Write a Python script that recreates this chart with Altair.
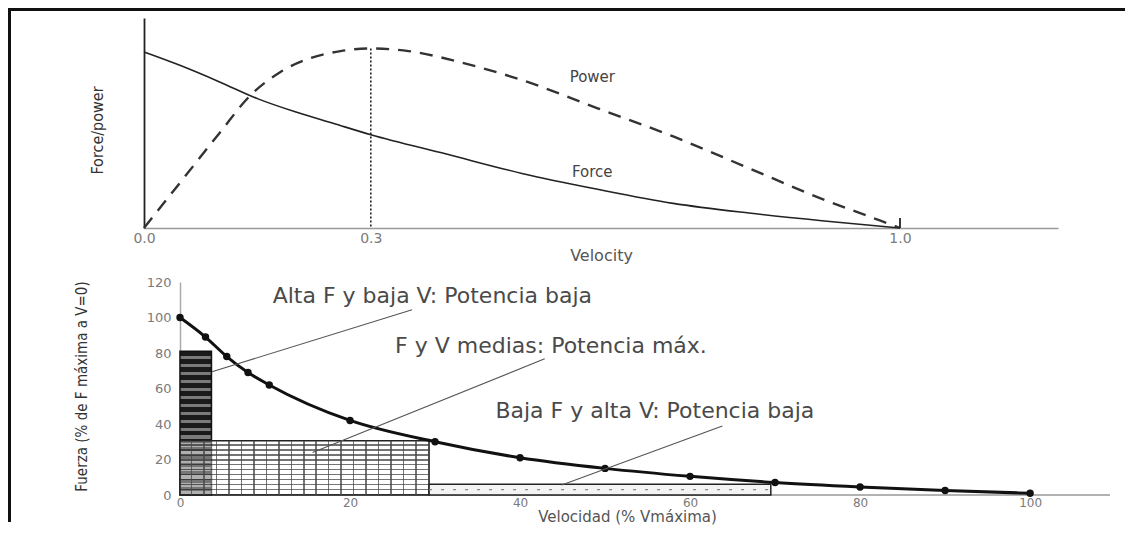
import altair as alt
import pandas as pd

# ---------------- top panel data (normalised force / power vs velocity) ----------------
force_v = [0.0, 0.05, 0.10, 0.15, 0.20, 0.25, 0.30, 0.40, 0.50, 0.60, 0.70, 0.80, 0.90, 1.0]
force_f = [1.0, 0.92, 0.83, 0.735, 0.66, 0.595, 0.53, 0.42, 0.31, 0.22, 0.14, 0.085, 0.04, 0.0]

power_v = [0.0, 0.05, 0.10, 0.14, 0.18, 0.22, 0.26, 0.30, 0.35, 0.42, 0.50, 0.60, 0.70,
           0.80, 0.90, 0.95, 1.0]
power_p = [0.0, 0.27, 0.54, 0.75, 0.885, 0.965, 1.005, 1.02, 1.005, 0.94, 0.84, 0.68, 0.52,
           0.34, 0.16, 0.08, 0.0]

peak_v = [0.3]
peak_p = [1.02]
top_ticks = [0.0, 0.3, 1.0]
end_tick_v = [1.0]
end_tick_h = [0.057]
curve_names = ["Power", "Force"]
curve_lab_v = [0.593, 0.593]
curve_lab_y = [0.858, 0.318]

# ---------------- bottom panel data ----------------
vel = [0, 3, 5.5, 8, 10.5, 20, 30, 40, 50, 60, 70, 80, 90, 100]
fuerza = [100, 89, 78, 69, 62, 42, 30, 21, 15, 10.5, 7, 4.5, 2.5, 1]

zone_name = ["alta", "media", "baja"]
zone_x0 = [0, 0, 29.3]
zone_x1 = [3.7, 29.3, 69.5]
zone_y = [81, 30.5, 6]

notes = ["Alta F y baja V: Potencia baja",
         "F y V medias: Potencia máx.",
         "Baja F y alta V: Potencia baja"]
note_x = [10.9, 25.3, 37.1]
note_y = [112.2, 83.9, 47.2]
lead_x = [27.3, 42.9, 63.8]
lead_y = [104.4, 76.7, 38.9]
lead_x2 = [3.76, 15.6, 44.9]
lead_y2 = [69.4, 23.9, 5.6]

bottom_xticks = [0, 20, 40, 60, 80, 100]
bottom_yticks = [0, 20, 40, 60, 80, 100, 120]
x_axis_span = [0, 109.4]

COND = "Liberation Sans Narrow, DejaVu Sans Condensed, sans-serif"
SANS = "DejaVu Sans"


def stripes(n, frac, bg, fg, along_y=True):
    stops = []
    for i in range(n):
        a = i / n
        b = (i + 1 - frac) / n
        c = (i + 1) / n
        stops += [{"offset": a, "color": bg}, {"offset": b, "color": bg},
                  {"offset": b, "color": fg}, {"offset": c, "color": fg}]
    g = {"gradient": "linear", "stops": stops, "x1": 0, "y1": 0}
    if along_y:
        g.update({"x2": 0, "y2": 1})
    else:
        g.update({"x2": 1, "y2": 0})
    return g


one = pd.DataFrame({"k": [0]})


def frame_bar(x0, x1, y0, y1):
    # page frame drawn as a thin filled bar (no stroke, so its bounds are exact)
    return alt.Chart(one).mark_rect(color="#111", strokeWidth=0).encode(
        x=alt.value(x0), x2=alt.value(x1), y=alt.value(y0), y2=alt.value(y1))


# ======================= TOP PANEL =======================
W1, H1 = 914, 210
xs1 = alt.Scale(domain=[0, 1.209], nice=False, zero=False)
ys1 = alt.Scale(domain=[0, 1.193], nice=False, zero=False)
xax1 = alt.Axis(values=top_ticks, format=".1f", ticks=False, grid=False, labelFlush=False,
                domainColor="#999", domainWidth=1.5, labelFont=SANS, labelFontSize=14,
                labelColor="#7a7a7a", labelPadding=3, title="Velocity", titleFont=SANS,
                titleFontSize=16, titleFontWeight="normal", titleColor="#555",
                titleY=27, titleBaseline="middle")
yax1 = alt.Axis(labels=False, ticks=False, grid=False, domainColor="#222", domainWidth=1.8,
                title="Force/power", titleFont=COND, titleFontSize=16, titleFontWeight="normal",
                titleColor="#333", titleX=-47, titleY=112, titleBaseline="middle",
                titleAlign="center")

X1 = alt.X("v:Q", scale=xs1, axis=xax1)
Y1 = alt.Y("y:Q", scale=ys1, axis=yax1)

df_force = pd.DataFrame({"v": force_v, "y": force_f})
df_power = pd.DataFrame({"v": power_v, "y": power_p})
df_peak = pd.DataFrame({"v": peak_v, "y": peak_p, "y0": [0.0]})
df_endtick = pd.DataFrame({"v": end_tick_v, "y": end_tick_h, "y0": [0.0]})
df_clab = pd.DataFrame({"v": curve_lab_v, "y": curve_lab_y, "t": curve_names})

force_line = alt.Chart(df_force).mark_line(color="#222", strokeWidth=1.6, interpolate="monotone").encode(x=X1, y=Y1)
power_line = alt.Chart(df_power).mark_line(color="#333", strokeWidth=2.4, strokeDash=[13, 9],
                                           interpolate="monotone").encode(x=X1, y=Y1)
peak_rule = alt.Chart(df_peak).mark_rule(color="#222", strokeWidth=1.6, strokeDash=[2, 2]).encode(
    x=X1, y=Y1, y2="y0:Q")
end_tick = alt.Chart(df_endtick).mark_rule(color="#222", strokeWidth=1.8).encode(x=X1, y=Y1, y2="y0:Q")
clabels = alt.Chart(df_clab).mark_text(font=SANS, fontSize=15, color="#444", align="center",
                                       baseline="middle").encode(x=X1, y=Y1, text="t:N")
frame_top = frame_bar(-136, 981, -10, -7)
frame_left1 = frame_bar(-136, -133, -10, 254)

top = alt.layer(force_line, power_line, peak_rule, end_tick, clabels, frame_top, frame_left1).properties(
    width=W1, height=H1)

# ======================= BOTTOM PANEL =======================
# plot area starts at the same left edge as the top panel; zero sits 36 px further right
W2, H2 = 966, 213
xs2 = alt.Scale(domain=[-4.235, 109.4], nice=False, zero=False)
ys2 = alt.Scale(domain=[0, 120], nice=False, zero=False)
xax2 = alt.Axis(values=bottom_xticks, ticks=False, grid=False, labelFlush=False, domain=False,
                labelFont=SANS, labelFontSize=12, labelColor="#7a7a7a", labelPadding=2,
                title="Velocidad (% Vmáxima)", titleFont=SANS, titleFontSize=15,
                titleFontWeight="normal", titleColor="#555", titleY=21.5, titleBaseline="middle")
yax2 = alt.Axis(values=bottom_yticks, ticks=False, grid=False, domainColor="#aaa", domainWidth=1.5,
                offset=-36, labelFont=SANS, labelFontSize=13, labelColor="#7a7a7a", labelPadding=9,
                title="Fuerza (% de F máxima a V=0)", titleFont=COND, titleFontSize=15,
                titleFontWeight="normal", titleColor="#333", titleX=-99, titleY=104,
                titleBaseline="middle", titleAlign="center")

X2 = alt.X("x:Q", scale=xs2, axis=xax2)
Y2 = alt.Y("y:Q", scale=ys2, axis=yax2)

df_zone = pd.DataFrame({"zone": zone_name, "x": zone_x0, "x1": zone_x1, "y": zone_y, "y0": [0, 0, 0]})
df_zone["ymid"] = df_zone["y"] / 2
df_curve = pd.DataFrame({"x": vel, "y": fuerza})
df_notes = pd.DataFrame({"x": note_x, "y": note_y, "t": notes})
df_lead = pd.DataFrame({"x": lead_x, "y": lead_y, "x1": lead_x2, "y1": lead_y2})
df_axis = pd.DataFrame({"x": [x_axis_span[0]], "x1": [x_axis_span[1]], "y": [0]})


def zone(name):
    return alt.Chart(df_zone).transform_filter(alt.datum.zone == name)


dark_fill = stripes(18, 0.45, "#1a1a1a", "#7a7a7a", True)
grid_h = stripes(11, 0.3, "rgba(255,255,255,0.4)", "rgba(70,70,70,0.75)", True)
grid_v = stripes(20, 0.12, "rgba(255,255,255,0)", "rgba(70,70,70,0.75)", False)

x_axis_line = alt.Chart(df_axis).mark_rule(color="#999", strokeWidth=1.5).encode(x=X2, x2="x1:Q", y=Y2)
dark_rect = zone("alta").mark_rect(fill=dark_fill, stroke="#111", strokeWidth=1.5).encode(
    x=X2, x2="x1:Q", y=Y2, y2="y0:Q")
grid_rect = zone("media").mark_rect(fill=grid_h, stroke="#222", strokeWidth=1.5).encode(
    x=X2, x2="x1:Q", y=Y2, y2="y0:Q")
grid_rect_v = zone("media").mark_rect(fill=grid_v).encode(x=X2, x2="x1:Q", y=Y2, y2="y0:Q")
dot_rect = zone("baja").mark_rect(fill="#f3f3f3", stroke="#222", strokeWidth=1.5).encode(
    x=X2, x2="x1:Q", y=Y2, y2="y0:Q")
dot_line = zone("baja").mark_rule(color="#888", strokeWidth=1.2, strokeDash=[3, 9]).encode(
    x=X2, x2="x1:Q", y=alt.Y("ymid:Q", scale=ys2, axis=yax2))

curve = alt.Chart(df_curve).mark_line(color="#111", strokeWidth=3, interpolate="monotone").encode(x=X2, y=Y2)
pts = alt.Chart(df_curve).mark_point(filled=True, color="#111", size=55, opacity=1).encode(x=X2, y=Y2)
leads = alt.Chart(df_lead).mark_rule(color="#555", strokeWidth=1.1).encode(x=X2, y=Y2, x2="x1:Q", y2="y1:Q")
note_txt = alt.Chart(df_notes).mark_text(font=SANS, fontSize=22, color="#4a4a4a", align="left",
                                         baseline="middle").encode(x=X2, y=Y2, text="t:N")
frame_left2 = frame_bar(-136, -133, -10, 240)

bottom = alt.layer(x_axis_line, dark_rect, grid_rect, grid_rect_v, dot_rect, dot_line, curve, pts,
                   leads, note_txt, frame_left2).properties(width=W2, height=H2)

chart = alt.vconcat(top, bottom, spacing=0).properties(
    padding=0, background="white").configure_view(stroke=None)

chart.save("out.html", embed_options={"renderer": "svg", "actions": False})
